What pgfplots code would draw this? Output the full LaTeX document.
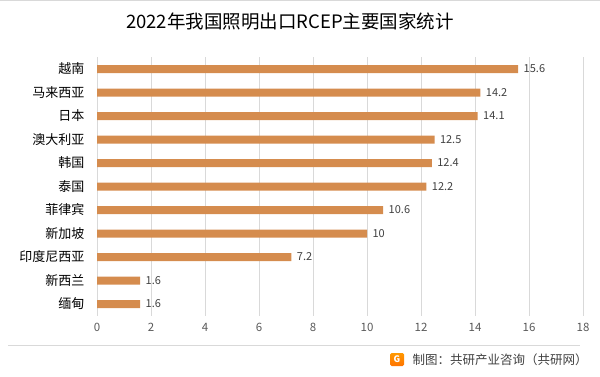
\documentclass[border=0pt]{standalone}
\usepackage{pgfplots}
\pgfplotsset{compat=1.18}
\usepackage{fontspec}
\setmainfont{Noto Sans CJK SC}
\newfontfamily\cjk{Noto Sans CJK SC}
\definecolor{barc}{RGB}{213,140,78}
\definecolor{gridc}{RGB}{217,217,217}
\definecolor{tickc}{RGB}{89,89,89}
\definecolor{labc}{RGB}{64,64,64}
\begin{document}
\begin{tikzpicture}[x=1pt,y=1pt]
\path[use as bounding box] (0,0) rectangle (600,376);
\draw[gridc, line width=0.8pt] (0,375.5) -- (600,375.5);
\node[font=\fontsize{18.5}{21}\selectfont, text=black] at (290,355) {2022年我国照明出口RCEP主要国家统计};
\begin{axis}[
  at={(97pt,60.25pt)}, anchor=south west,
  scale only axis, width=486pt, height=258.5pt,
  xbar, bar width=8pt,
  xmin=0, xmax=18, ymin=-0.5, ymax=10.5,
  xtick={0,2,...,18},
  ytick={0,...,10},
  yticklabels={缅甸,新西兰,印度尼西亚,新加坡,菲律宾,泰国,韩国,澳大利亚,日本,马来西亚,越南},
  axis line style={draw=none},
  major tick length=0pt,
  xmajorgrids, grid style={gridc, line width=0.8pt},
  /pgf/number format/assume math mode=true,
  xticklabel style={font=\fontsize{11.5}{13}\selectfont, text=tickc, yshift=-4pt},
  yticklabel style={font=\fontsize{13}{15}\selectfont, text=black, xshift=-9pt},
  nodes near coords,
  nodes near coords style={font=\fontsize{11}{13}\selectfont, text=labc, anchor=west, xshift=2pt},
]
\addplot[fill=barc, draw=none] coordinates {
(1.6,0) (1.6,1) (7.2,2) (10,3) (10.6,4) (12.2,5) (12.4,6) (12.5,7) (14.1,8) (14.2,9) (15.6,10)};
\end{axis}
\draw[gridc, line width=0.8pt] (8,31) -- (580,31);
\shade[top color=orange!80!yellow, bottom color=orange!90!red, rounded corners=1.5pt] (390,10) rectangle (404,23);
\node[text=white, font=\bfseries\fontsize{9}{10}\selectfont] at (397,16.5) {G};
\node[anchor=west, font=\fontsize{12.5}{14}\selectfont, text=labc] at (409,16.5) {制图：共研产业咨询（共研网）};
\end{tikzpicture}
\end{document}
